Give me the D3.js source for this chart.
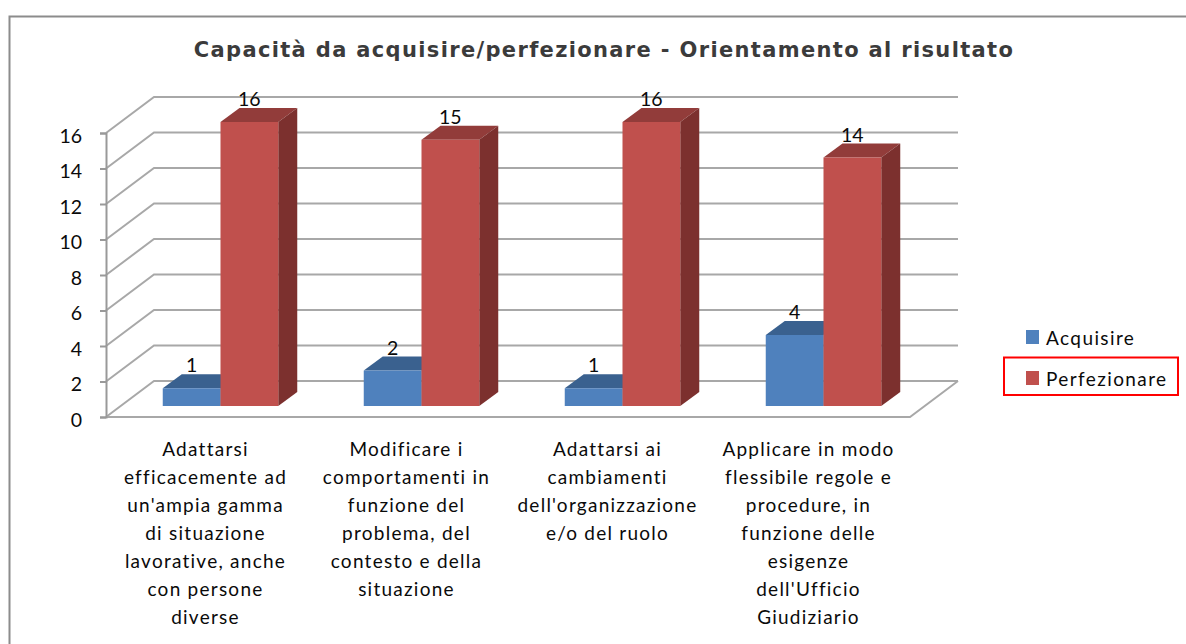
<!DOCTYPE html>
<html><head><meta charset="utf-8">
<script src="https://cdnjs.cloudflare.com/ajax/libs/d3/7.8.5/d3.min.js"></script>
<style>html,body{margin:0;padding:0;background:#fff;overflow:hidden}svg{display:block}</style>
</head><body><div id="chart"></div>
<script>
const categories = [
  ["Adattarsi","efficacemente ad","un'ampia gamma","di situazione","lavorative, anche","con persone","diverse"],
  ["Modificare i","comportamenti in","funzione del","problema, del","contesto e della","situazione"],
  ["Adattarsi ai","cambiamenti","dell'organizzazione","e/o del ruolo"],
  ["Applicare in modo","flessibile regole e","procedure, in","funzione delle","esigenze","dell'Ufficio","Giudiziario"]
];
const seriesNames = ["Acquisire","Perfezionare"];
const acquisire = [1,2,1,4];
const perfezionare = [16,15,16,14];
const yTicks = [0,2,4,6,8,10,12,14,16];
const titleText = "Capacità da acquisire/perfezionare - Orientamento al risultato";

const colors = {
  Acquisire:{front:"#4f81bd",top:"#3a618f",side:"#34557e"},
  Perfezionare:{front:"#c0504d",top:"#923c3a",side:"#7c302e"}
};
const W=1186,H=644;
const svg=d3.select("#chart").append("svg").attr("width",W).attr("height",H);
const bodyFont="Lato, Carlito, 'Open Sans', sans-serif";
const ink="#0a0a0a";

svg.append("path").attr("d","M9.5,644V16.5H1186").attr("fill","none").attr("stroke","#8c8c8c").attr("stroke-width",2);
svg.append("text").attr("x",604).attr("y",57).attr("text-anchor","middle")
  .attr("font-family","'DejaVu Sans',Verdana,sans-serif").attr("font-weight","bold")
  .attr("font-size",21).attr("letter-spacing",1.34).attr("fill","#3b3b3b").text(titleText);

const y=d3.scaleLinear().domain([0,16]).range([417,133]);
const x=d3.scaleBand().domain(d3.range(categories.length)).range([106,910]);
const xInner=d3.scaleBand().domain(seriesNames).range([0,115.5]);
const wall={dx:48,dy:-36};
const bar={dx:19,dy:-14,baseDepthX:14,baseDepthY:-11};

const grid=svg.append("g");
yTicks.forEach(t=>{
  const p=[[x.range()[0],y(t)],[x.range()[0]+wall.dx,y(t)+wall.dy],[x.range()[1]+wall.dx,y(t)+wall.dy]];
  grid.append("path").attr("d",d3.line()(p)).attr("fill","none").attr("stroke","#a8a8a8").attr("stroke-width",2);
});
grid.append("path").attr("d",d3.line()([[x.range()[0],y(0)],[x.range()[1],y(0)],[x.range()[1]+wall.dx,y(0)+wall.dy]]))
  .attr("fill","none").attr("stroke","#a8a8a8").attr("stroke-width",2);

const axis=d3.axisLeft(y).tickValues(yTicks).tickSize(6).tickPadding(18).tickFormat(d3.format("d"));
const ax=svg.append("g").attr("transform",`translate(${x.range()[0]},0)`).call(axis);
ax.selectAll("path,line").attr("stroke","#999").attr("stroke-width",2);
ax.selectAll("text").attr("font-family",bodyFont).attr("font-size",19.5).attr("fill",ink).attr("dy","9px");

const barsG=svg.append("g");
const labelsG=svg.append("g");
const values={Acquisire:acquisire,Perfezionare:perfezionare};
const xCenterShift=(x.bandwidth()-xInner.range()[1])/2;
categories.forEach((c,i)=>{
  seriesNames.forEach(s=>{
    const v=values[s][i], col=colors[s];
    const x0=x(i)+xCenterShift+xInner(s)+bar.baseDepthX, w=xInner.bandwidth();
    const base=y(0)+bar.baseDepthY, top=base-(y(0)-y(v));
    const poly=(pts,f)=>barsG.append("polygon").attr("points",pts.map(p=>p.join(",")).join(" ")).attr("fill",f);
    poly([[x0,top],[x0+bar.dx,top+bar.dy],[x0+w+bar.dx,top+bar.dy],[x0+w,top]],col.top);
    poly([[x0+w,top],[x0+w+bar.dx,top+bar.dy],[x0+w+bar.dx,base+bar.dy],[x0+w,base]],col.side);
    poly([[x0,top],[x0+w,top],[x0+w,base],[x0,base]],col.front);
    labelsG.append("text").attr("x",x0+w/2).attr("y",top-15.8).attr("text-anchor","middle")
      .attr("font-family",bodyFont).attr("font-size",19.5).attr("fill",ink).text(v);
  });
});

const catG=svg.append("g");
categories.forEach((lines,i)=>{
  const cx=x(i)+x.bandwidth()/2-1;
  lines.forEach((l,j)=>{
    catG.append("text").attr("x",cx).attr("y",456+j*28).attr("text-anchor","middle")
      .attr("font-family",bodyFont).attr("font-size",19).attr("letter-spacing",1.25).attr("fill",ink).text(l);
  });
});

const legendY=d3.scalePoint().domain(seriesNames).range([337,378]);
seriesNames.forEach(s=>{
  svg.append("rect").attr("x",1026).attr("y",legendY(s)-7).attr("width",13).attr("height",14).attr("fill",colors[s].front);
  svg.append("text").attr("x",1046).attr("y",legendY(s)+8).attr("font-family",bodyFont)
    .attr("font-size",19).attr("letter-spacing",1.4).attr("fill",ink).text(s);
});
svg.append("rect").attr("x",1004).attr("y",357.5).attr("width",174).attr("height",37.5).attr("fill","none").attr("stroke","#ff0000").attr("stroke-width",2);
</script></body></html>
